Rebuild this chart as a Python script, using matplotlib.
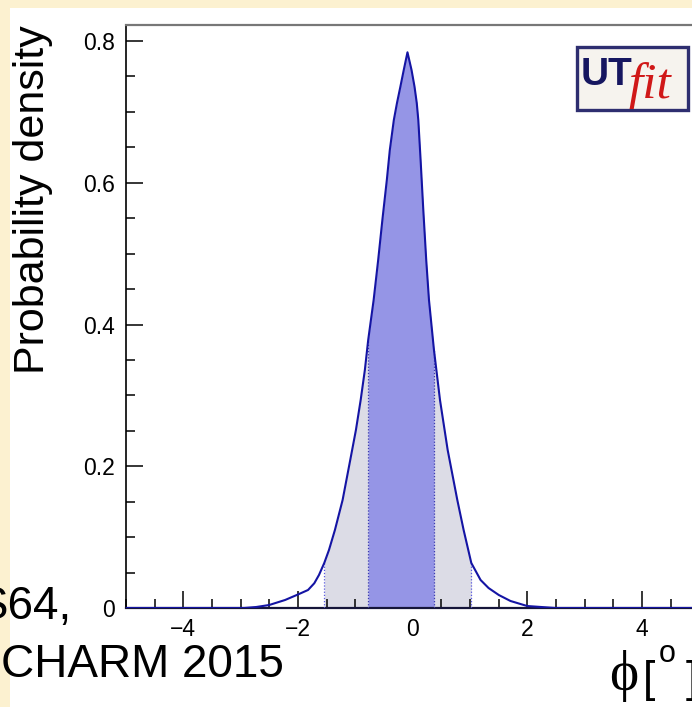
import matplotlib
matplotlib.use("Agg")
import matplotlib.pyplot as plt
from matplotlib.patches import Rectangle
from matplotlib.ticker import MultipleLocator, FuncFormatter
import numpy as np

# ---- data ----
phi = [-5.0, -3.5, -2.939, -2.730, -2.504, -2.226, -1.995, -1.826, -1.717, -1.635,
       -1.543, -1.461, -1.357, -1.223, -1.090, -0.991, -0.908, -0.835, -0.777,
       -0.682, -0.603, -0.527, -0.452, -0.400, -0.330, -0.275, -0.216, -0.157,
       -0.092, -0.021, 0.031, 0.070, 0.097, 0.137, 0.184, 0.235, 0.283, 0.370,
       0.475, 0.609, 0.777, 0.887, 1.021, 1.183, 1.322, 1.501, 1.704, 1.995,
       2.487, 3.5, 5.0]
density = [0.0, 0.0, 0.0, 0.0014, 0.0042, 0.0113, 0.0193, 0.0254, 0.0349, 0.0466,
           0.0635, 0.0818, 0.1101, 0.1524, 0.2088, 0.2511, 0.2935, 0.3358, 0.3781,
           0.4346, 0.4910, 0.5496, 0.6039, 0.6462, 0.6885, 0.7125, 0.7355, 0.7591,
           0.7841, 0.7591, 0.7355, 0.7125, 0.6885, 0.632, 0.5616, 0.491, 0.4346, 0.364,
           0.2935, 0.2229, 0.1524, 0.1101, 0.0635, 0.0395, 0.0282, 0.0183, 0.0099, 0.0028,
           0.0, 0.0, 0.0]
band68 = [-0.777, 0.370]
band95 = [-1.543, 1.021]
xticks_major = [-4, -2, 0, 2, 4]
yticks_major = [0, 0.2, 0.4, 0.6, 0.8]

W, H = 692, 707
fig = plt.figure(figsize=(W / 100, H / 100), dpi=100)
fig.patch.set_facecolor("white")

def fx(x):
    return x / W

def fy(y):
    return 1 - y / H

# slide background strips
yellow = "#fcf1d0"
fig.patches.append(Rectangle((0, fy(8)), 1, 8 / H, transform=fig.transFigure,
                             facecolor=yellow, edgecolor="none", zorder=0))
fig.patches.append(Rectangle((0, 0), 10 / W, 1, transform=fig.transFigure,
                             facecolor=yellow, edgecolor="none", zorder=0))

ax_left, ax_right, ax_top, ax_bot = 126, 699.5, 25, 608
ax = fig.add_axes([fx(ax_left), fy(ax_bot), (ax_right - ax_left) / W, (ax_bot - ax_top) / H])
ax.set_facecolor("white")

x = np.array(phi)
y = np.array(density)

m95 = (x >= band95[0]) & (x <= band95[1])
m68 = (x >= band68[0]) & (x <= band68[1])
ax.fill_between(x[m95], 0, y[m95], color="#dcdce6", linewidth=0, zorder=1)
ax.fill_between(x[m68], 0, y[m68], color="#9595e6", linewidth=0, zorder=2)

for b in band95:
    i = phi.index(b)
    ax.plot([b, b], [0, density[i]], color="#5a5ae0", lw=0.9, ls=(0, (1, 1.5)), zorder=3)
for b in band68:
    i = phi.index(b)
    ax.plot([b, b], [0, density[i]], color="#3a3ab0", lw=0.9, ls=(0, (1, 1.5)), zorder=3)

ax.plot(x, y, color="#1414a4", lw=1.5, zorder=4, solid_joinstyle="round")

ax.set_xlim(-5, 5)
ax.set_ylim(0, 0.8226)

ax.set_xticks(xticks_major)
ax.set_yticks(yticks_major)
ax.xaxis.set_minor_locator(MultipleLocator(0.5))
ax.yaxis.set_minor_locator(MultipleLocator(0.05))
ax.yaxis.set_major_formatter(FuncFormatter(lambda v, p: "0" if abs(v) < 1e-9 else f"{v:.1f}"))
ax.xaxis.set_major_formatter(FuncFormatter(lambda v, p: "0" if abs(v) < 1e-9 else f"{v:.0f}".replace("-", "\u2212")))

ax.tick_params(which="major", direction="in", length=12.2, width=1.1, labelsize=16.5,
               colors="black", top=False, right=False)
ax.tick_params(which="minor", direction="in", length=6.3, width=1.1, top=False, right=False)
ax.tick_params(axis="x", which="major", pad=7)
ax.tick_params(axis="y", which="major", pad=8)
for lab in ax.get_xticklabels() + ax.get_yticklabels():
    lab.set_fontfamily("Liberation Sans")

ax.spines["left"].set_linewidth(1.2)
ax.spines["bottom"].set_linewidth(1.6)
ax.spines["bottom"].set_color("#15153a")
ax.spines["top"].set_color("#777777")
ax.spines["top"].set_linewidth(1.6)
ax.spines["right"].set_visible(False)

# y-axis title
fig.text(fx(33), fy(25), "Probability density", rotation=90, ha="center", va="top",
         fontsize=31, family="Liberation Sans", color="black")

# x-axis title (cut at the right edge)
fig.text(fx(609), fy(690), "\u03d5", fontsize=40, family=["Liberation Serif", "DejaVu Serif"],
         ha="left", va="baseline", color="black")
fig.text(fx(643), fy(692), "[", fontsize=32, family="Liberation Sans", ha="left", va="baseline")
fig.text(fx(659), fy(662), "o", fontsize=22, family="Liberation Sans", ha="left", va="baseline")
fig.text(fx(686), fy(692), "]", fontsize=32, family="Liberation Sans", ha="left", va="baseline")

# UTfit logo
fig.patches.append(Rectangle((fx(577), fy(110)), (688 - 577) / W, (110 - 47) / H,
                             transform=fig.transFigure, facecolor="#f6f3ee",
                             edgecolor="#2e2e70", linewidth=2.4, zorder=5))
fig.text(fx(581), fy(85), "UT", fontsize=28, fontweight="bold", family="Liberation Sans",
         color="#161660", ha="left", va="baseline", zorder=6)
fig.text(fx(628), fy(98), "fit", fontsize=37, fontstyle="italic", family="Liberation Serif",
         color="#d01818", ha="left", va="baseline", zorder=6)

# slide text overlaying the picture
fig.text(fx(-22), fy(619), "S64,", fontsize=33, family="Liberation Sans", color="black",
         ha="left", va="baseline", zorder=10)
fig.text(fx(1), fy(677), "CHARM 2015", fontsize=33, family="Liberation Sans", color="black",
         ha="left", va="baseline", zorder=10)

fig.savefig("out.png", dpi=100)
